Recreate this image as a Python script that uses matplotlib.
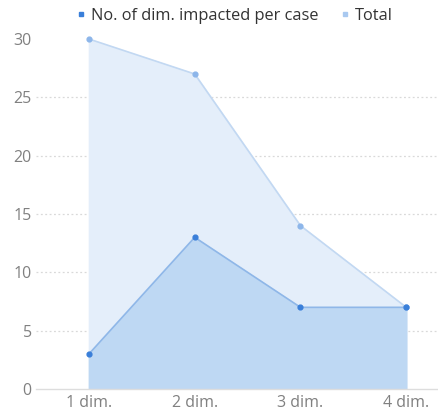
import matplotlib.pyplot as plt
from matplotlib.lines import Line2D

categories = ["1 dim.", "2 dim.", "3 dim.", "4 dim."]
impacted = [3, 13, 7, 7]
total = [30, 27, 14, 7]

plt.rcParams['font.family'] = ['Open Sans', 'DejaVu Sans']

fig = plt.figure(figsize=(4.38, 4.11), dpi=100)
ax = fig.add_axes([36 / 438, 22 / 411, 402 / 438, 350 / 411])

x = list(range(1, len(categories) + 1))

# total area behind, per-case area in front
ax.fill_between(x, total, color="#e4eefa", zorder=1)
ax.plot(x, total, color="#c2d8f2", lw=1.2, zorder=2)
ax.scatter(x, total, s=12, color="#8db6ea", zorder=4, clip_on=False)

ax.fill_between(x, impacted, color="#bed8f3", zorder=2)
ax.plot(x, impacted, color="#8fb7e8", lw=1.2, zorder=3)
ax.scatter(x, impacted, s=12, color="#3a7fd9", zorder=5, clip_on=False)

ax.set_xlim(0.5, 4.3)
ax.set_ylim(0, 30)
ax.set_xticks(x)
ax.set_xticklabels(categories)
ax.set_yticks(range(0, 31, 5))

for y in range(5, 30, 5):
    ax.axhline(y, color="#d9d9d9", lw=0.9, ls=(0, (1.5, 2)), zorder=0)

for s in ["top", "right", "left"]:
    ax.spines[s].set_visible(False)
ax.spines["bottom"].set_color("#dddddd")
ax.spines["bottom"].set_linewidth(1)
ax.tick_params(axis="both", length=0, labelsize=11.5, labelcolor="#808080")
ax.tick_params(axis="x", pad=4)
ax.tick_params(axis="y", pad=3)

handles = [
    Line2D([], [], marker="s", ls="", color="#3a7fd9", markersize=3.5),
    Line2D([], [], marker="s", ls="", color="#a9c9f0", markersize=3.5),
]
fig.legend(handles, ["No. of dim. impacted per case", "Total"],
           loc="center", bbox_to_anchor=(0.535, 0.962), ncol=2, frameon=False,
           fontsize=11.8, handlelength=0.6, handletextpad=0.3,
           columnspacing=1.3, labelcolor="#333333")

fig.savefig("out.png", dpi=100)
